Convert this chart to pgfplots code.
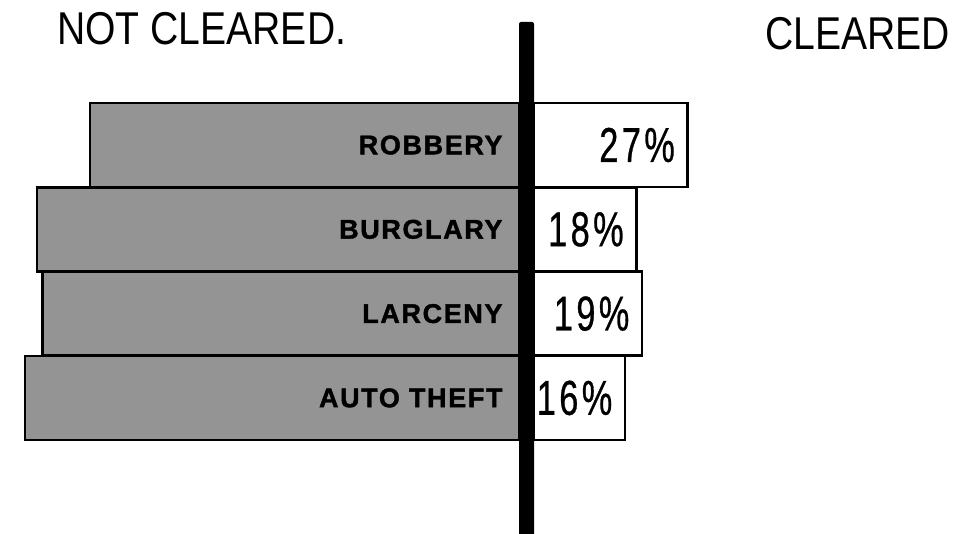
\documentclass[border=0pt]{standalone}
\usepackage{pgfplots}
\usepackage{pgfplotstable}
\pgfplotsset{compat=1.18}
\usepackage{fontspec}
\setmainfont{Liberation Sans}
\newfontfamily\titlefont[FakeStretch=0.85]{Liberation Sans}
\newfontfamily\catfont[FakeStretch=1.0,LetterSpace=6,FakeBold=1.5]{Liberation Sans Bold}
\newfontfamily\pctfont[FakeStretch=0.7,LetterSpace=7,FakeBold=0.6]{Liberation Sans}

\pgfplotstableread{
pos notcleared cleared
0 73 27
1 82 18
2 81 19
3 84 16
}\crimes

\begin{document}
\begin{tikzpicture}
\useasboundingbox (0bp,0bp) rectangle (964bp,534bp);
% left: not cleared
\begin{axis}[at={(0bp,0bp)}, anchor=south west, scale only axis,
  width=519bp, height=534bp, hide axis,
  xmin=-88.27, xmax=0, ymin=-1.720, ymax=4.614, y dir=reverse, clip=false]
\addplot[xbar, bar width=84bp, fill=black!42, draw=black, line width=2.5bp]
  table[x expr=-\thisrow{notcleared}, y=pos] {\crimes};
\addplot[draw=none, mark=none, nodes near coords, point meta=explicit symbolic,
  every node near coord/.append style={anchor=east, xshift=-13bp, text=black,
  font=\catfont\fontsize{27bp}{27bp}\selectfont}]
  coordinates {(0,0) [ROBBERY] (0,1) [BURGLARY] (0,2) [LARCENY] (0,3) [AUTO THEFT]};
\end{axis}
% right: cleared
\begin{axis}[at={(534bp,0bp)}, anchor=south west, scale only axis,
  width=430bp, height=534bp, hide axis,
  xmin=0, xmax=75.7, ymin=-1.720, ymax=4.614, y dir=reverse, clip=false,
  /pgf/number format/assume math mode=true]
\addplot[xbar, bar width=84bp, fill=white, draw=black, line width=2.5bp,
  point meta=x, nodes near coords={\pgfmathprintnumber{\pgfplotspointmeta}\%},
  every node near coord/.append style={anchor=east, xshift=-8bp, text=black,
  font=\pctfont\fontsize{49bp}{49bp}\selectfont}]
  table[x=cleared, y=pos] {\crimes};
\end{axis}
% central divider
\fill[black, rounded corners=2bp] (519bp,-2bp) rectangle (534bp,512bp);
% titles
\node[anchor=base west, inner sep=0pt, font=\titlefont\fontsize{46bp}{46bp}\selectfont]
  at (57bp,489bp) {NOT CLEARED.};
\node[anchor=base east, inner sep=0pt, font=\titlefont\fontsize{46bp}{46bp}\selectfont]
  at (950bp,484bp) {CLEARED};
\end{tikzpicture}
\end{document}
